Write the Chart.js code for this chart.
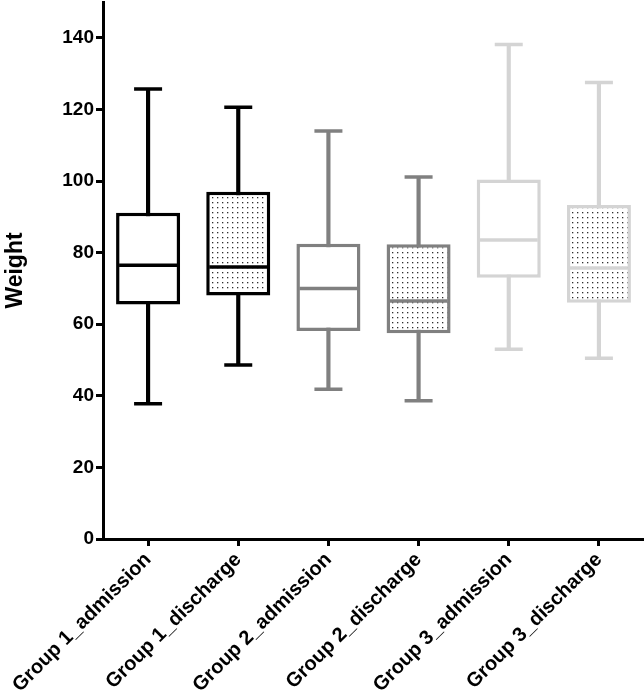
<!DOCTYPE html>
<html>
<head>
<meta charset="utf-8">
<script src="https://cdn.jsdelivr.net/npm/chart.js@4/dist/chart.umd.min.js"></script>
<style>
  html, body { margin: 0; padding: 0; background: #fff; }
  #wrap { width: 644px; height: 699px; }
</style>
</head>
<body>
<div id="wrap"><canvas id="box" width="644" height="699"></canvas></div>
<script>
const groups = ['Group 1_admission', 'Group 1_discharge', 'Group 2_admission', 'Group 2_discharge', 'Group 3_admission', 'Group 3_discharge'];
const minVals = [37.8, 48.6, 41.8, 38.6, 53.0, 50.5];
const q1Vals = [65.5, 68.0, 58.1, 57.5, 73.0, 66.0];
const medVals = [76.5, 76.0, 70.0, 66.5, 83.5, 75.7];
const q3Vals = [91.1, 97.0, 82.5, 82.3, 100.4, 93.3];
const maxVals = [125.7, 120.6, 114.0, 101.1, 138.1, 127.5];
const yTicks = [0, 20, 40, 60, 80, 100, 120, 140];

const colors = ['#000000', '#000000', '#808080', '#808080', '#d4d4d4', '#d4d4d4'];
const dotted = [false, true, false, true, false, true];

// dotted fill for discharge boxes
const makeDots = () => {
    const c = document.createElement('canvas');
    c.width = 5; c.height = 5;
    const g = c.getContext('2d');
    g.fillStyle = '#ffffff';
    g.fillRect(0, 0, 5, 5);
    g.fillStyle = '#2e2e2e';
    g.fillRect(2, 2, 1.3, 1.3);
    return document.getElementById('box').getContext('2d').createPattern(c, 'repeat');
};
const dots = makeDots();
const fills = dotted.map(d => d ? dots : '#ffffff');

const FONT = "'Liberation Sans', Arial, sans-serif";
const LW = 3.5;

const ctx = document.getElementById('box').getContext('2d');
new Chart(ctx, {
    type: 'bar',
    data: {
        labels: groups,
        datasets: [
            {
                // whiskers
                data: groups.map((g, i) => [minVals[i], maxVals[i]]),
                backgroundColor: colors,
                borderWidth: 0,
                barThickness: LW,
                grouped: false,
                order: 3
            },
            {
                // boxes
                data: groups.map((g, i) => [q1Vals[i], q3Vals[i]]),
                backgroundColor: fills,
                borderColor: colors,
                borderWidth: LW,
                borderSkipped: false,
                barPercentage: 0.71,
                categoryPercentage: 1,
                grouped: false,
                order: 2
            },
            {
                type: 'line', data: medVals, showLine: false,
                pointStyle: 'line', pointRadius: 29, pointBorderWidth: LW,
                pointBorderColor: colors, order: 1
            },
            {
                type: 'line', data: minVals, showLine: false,
                pointStyle: 'line', pointRadius: 14, pointBorderWidth: LW,
                pointBorderColor: colors, order: 1
            },
            {
                type: 'line', data: maxVals, showLine: false,
                pointStyle: 'line', pointRadius: 14, pointBorderWidth: LW,
                pointBorderColor: colors, order: 1
            }
        ]
    },
    options: {
        responsive: false,
        animation: false,
        layout: { autoPadding: false, padding: { top: 2, right: 0, left: 0, bottom: 0 } },
        plugins: { legend: { display: false }, tooltip: { enabled: false } },
        scales: {
            x: {
                offset: true,
                border: { display: true, color: '#000', width: 3 },
                grid: { offset: false, drawOnChartArea: false, color: '#000', lineWidth: 3, tickLength: 7 },
                ticks: {
                    autoSkip: false, minRotation: 45, maxRotation: 45, padding: 2,
                    color: '#000', font: { family: FONT, size: 20, weight: 'bold' }
                },
                afterFit: (s) => { s.height = 160; s.paddingRight = 0; }
            },
            y: {
                min: 0, max: 150,
                border: { display: true, color: '#000', width: 3 },
                grid: { drawOnChartArea: false, color: '#000', lineWidth: 3, tickLength: 7 },
                ticks: {
                    padding: 2, color: '#000',
                    font: { family: FONT, size: 19, weight: 'bold' }
                },
                afterBuildTicks: (s) => { s.ticks = yTicks.map(v => ({ value: v })); },
                title: {
                    display: true, text: 'Weight', color: '#000',
                    font: { family: FONT, size: 23, weight: 'bold' },
                    padding: { top: 2, bottom: 0 }
                },
                afterFit: (s) => { s.width = 103; s.paddingTop = 0; }
            }
        }
    }
});
</script>
</body>
</html>
